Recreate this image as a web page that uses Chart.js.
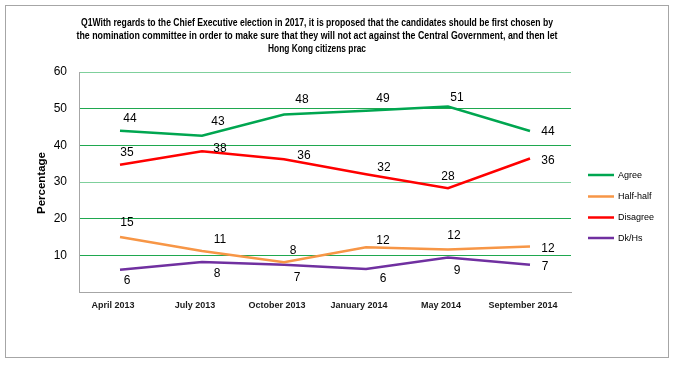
<!DOCTYPE html>
<html>
<head>
<meta charset="utf-8">
<script src="https://cdn.jsdelivr.net/npm/chart.js@4/dist/chart.umd.min.js"></script>
<style>
html,body{margin:0;padding:0;background:#fff;}
#wrap{width:677px;height:366px;position:relative;}
</style>
</head>
<body>
<div id="wrap"><canvas id="c" width="677" height="366"></canvas></div>
<script>
// ---- data ----
const categories = ["April 2013", "July 2013", "October 2013", "January 2014", "May 2014", "September 2014"];
const agree    = [44.0, 42.6, 48.4, 49.4, 50.6, 43.9];
const halfHalf = [15.0, 11.2, 8.1, 12.2, 11.6, 12.4];
const disagree = [34.7, 38.4, 36.2, 32.1, 28.3, 36.4];
const dkHs     = [6.1, 8.2, 7.4, 6.3, 9.4, 7.4];
const yTicks   = [0, 10, 20, 30, 40, 50, 60];
const titleLines = [
  "Q1With regards to the Chief Executive election in 2017, it is proposed that the candidates should be first chosen by",
  "the nomination committee in order to make sure that they will not act against the Central Government, and then let",
  "Hong Kong citizens prac"
];
const yTitle = "Percentage";

// ---- styles (label offsets in px relative to each point) ----
const labelOffsets = {
  "Agree":     [[10,-12],[16,-14],[18,-15],[17,-12],[9,-9],[18,1]],
  "Half-half": [[7,-14],[18,-11],[9,-12],[17,-7],[6,-14],[18,2]],
  "Disagree":  [[7,-12],[18,-3],[20,-4],[18,-7],[0,-12],[18,2]],
  "Dk/Hs":     [[7,11],[15,12],[13,13],[17,10],[9,13],[15,2]]
};

const frameAndText = {
  id: 'frameAndText',
  beforeDraw(chart) {
    const ctx = chart.ctx;
    ctx.save();
    ctx.fillStyle = '#fff';
    ctx.fillRect(0, 0, chart.width, chart.height);
    ctx.strokeStyle = '#a6a6a6';
    ctx.lineWidth = 1;
    ctx.strokeRect(5.5, 5.5, 663, 352);
    ctx.restore();
  },
  afterDraw(chart) {
    const ctx = chart.ctx;
    ctx.save();
    // title
    ctx.fillStyle = '#000';
    ctx.font = 'bold 10px "Liberation Sans", Arial, sans-serif';
    ctx.textAlign = 'center';
    ctx.textBaseline = 'middle';
    const targetW = [472, 481, 98];
    titleLines.forEach((t, i) => {
      const w = ctx.measureText(t).width;
      const sx = Math.min(1, targetW[i] / w);
      ctx.save();
      ctx.translate(317, 23 + i * 13.3);
      ctx.scale(sx, 1);
      ctx.fillText(t, 0, 0);
      ctx.restore();
    });
    // y axis title
    ctx.save();
    ctx.translate(42, 183);
    ctx.rotate(-Math.PI / 2);
    ctx.font = 'bold 11.5px "Liberation Sans", Arial, sans-serif';
    ctx.fillText(yTitle, 0, 0);
    ctx.restore();
    // data labels
    ctx.font = '12px "Liberation Sans", Arial, sans-serif';
    ctx.fillStyle = '#000';
    chart.data.datasets.forEach((ds, di) => {
      const meta = chart.getDatasetMeta(di);
      const offs = labelOffsets[ds.label];
      meta.data.forEach((pt, i) => {
        const o = offs[i];
        ctx.fillText(String(Math.round(ds.data[i])), pt.x + o[0], pt.y + o[1]);
      });
    });
    // legend
    ctx.textAlign = 'left';
    ctx.font = '9px "Liberation Sans", Arial, sans-serif';
    const ly = [175, 196.5, 217.5, 238];
    chart.data.datasets.forEach((ds, di) => {
      ctx.strokeStyle = ds.borderColor;
      ctx.lineWidth = 2.5;
      ctx.beginPath();
      ctx.moveTo(588, ly[di]);
      ctx.lineTo(614, ly[di]);
      ctx.stroke();
      ctx.fillStyle = '#000';
      ctx.fillText(ds.label, 618, ly[di] + 0.5);
    });
    ctx.restore();
  }
};

const mk = (label, data, color) => ({
  label, data, borderColor: color, backgroundColor: color,
  borderWidth: 2.5, pointRadius: 0, pointHoverRadius: 0, tension: 0, fill: false
});

new Chart(document.getElementById('c'), {
  type: 'line',
  data: {
    labels: categories,
    datasets: [
      mk('Agree', agree, '#00a650'),
      mk('Half-half', halfHalf, '#f79646'),
      mk('Disagree', disagree, '#ff0000'),
      mk('Dk/Hs', dkHs, '#7030a0')
    ]
  },
  options: {
    responsive: false,
    animation: false,
    events: [],
    layout: { padding: { top: 72, right: 106, left: 0, bottom: 0 } },
    plugins: { legend: { display: false }, title: { display: false }, tooltip: { enabled: false } },
    scales: {
      x: {
        offset: true,
        grid: { display: false, drawTicks: false },
        border: { display: true, color: '#a6a6a6', width: 1 },
        ticks: {
          color: '#1a1a1a', padding: 8, labelOffset: -7, maxRotation: 0, autoSkip: false,
          font: { family: '"Liberation Sans", Arial, sans-serif', size: 9, weight: 'bold' }
        },
        afterFit(s) { s.height = 74; }
      },
      y: {
        min: 0, max: 60,
        afterBuildTicks(s) { s.ticks = yTicks.map(v => ({ value: v })); },
        grid: {
          drawTicks: false,
          color: (c) => c.tick && c.tick.value === 0 ? '#a6a6a6' : ((c.tick && (c.tick.value === 30 || c.tick.value === 60)) ? '#7fd09c' : '#1fa84f'),
          lineWidth: 1
        },
        border: { display: true, color: '#a6a6a6', width: 1 },
        ticks: {
          color: '#000', padding: 12,
          font: { family: '"Liberation Sans", Arial, sans-serif', size: 12 },
          callback: (v) => (v === 0 ? '' : String(v))
        },
        afterFit(s) { s.width = 79; }
      }
    }
  },
  plugins: [frameAndText]
});
</script>
</body>
</html>
